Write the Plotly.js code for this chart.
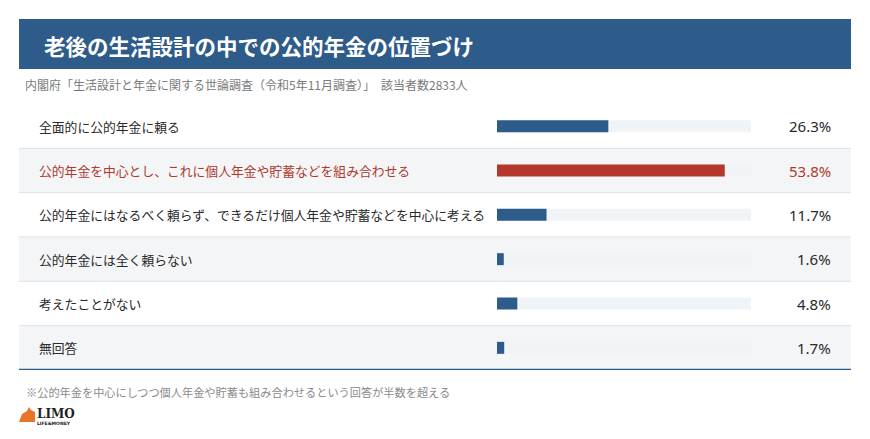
<!DOCTYPE html>
<html>
<head>
<meta charset="utf-8">
<script src="https://cdn.plot.ly/plotly-3.0.1.min.js"></script>
<style>html,body{margin:0;padding:0;background:#fff;}#chart{width:870px;height:439px;}</style>
</head>
<body>
<div id="chart"></div>
<script>
const titleText = "老後の生活設計の中での公的年金の位置づけ";
const subtitleText = "内閣府「生活設計と年金に関する世論調査（令和5年11月調査）」　該当者数2833人";
const footnoteText = "※公的年金を中心にしつつ個人年金や貯蓄も組み合わせるという回答が半数を超える";
const categories = [
  "全面的に公的年金に頼る",
  "公的年金を中心とし、これに個人年金や貯蓄などを組み合わせる",
  "公的年金にはなるべく頼らず、できるだけ個人年金や貯蓄などを中心に考える",
  "公的年金には全く頼らない",
  "考えたことがない",
  "無回答"
];
const values = [26.3, 53.8, 11.7, 1.6, 4.8, 1.7];
const highlightIndex = 1;
const trackMax = 60;

const W = 870, H = 439;
const px = x => x / W;
const py = y => 1 - y / H;

const BLUE = "#2d5b8a";
const RED = "#b4372a";
const RED_TEXT = "#b0392b";
const FONT = "'Noto Sans CJK JP', 'Noto Sans', sans-serif";

const barColors = values.map((v, i) => i === highlightIndex ? RED : BLUE);

const traces = [
  {
    type: "bar", orientation: "h",
    y: categories, x: categories.map(() => trackMax),
    marker: {color: "#f1f4f7"}, width: 0.27,
    hoverinfo: "skip", showlegend: false
  },
  {
    type: "bar", orientation: "h",
    y: categories, x: values,
    marker: {color: barColors}, width: 0.27,
    hoverinfo: "skip", showlegend: false
  }
];

const shapes = [];
shapes.push({type: "rect", xref: "paper", yref: "paper", x0: px(19), x1: px(851), y0: py(69), y1: py(19), fillcolor: BLUE, line: {width: 0}, layer: "below"});
categories.forEach((c, i) => {
  if (i % 2 === 1) {
    shapes.push({type: "rect", xref: "paper", yref: "y", x0: px(19), x1: px(851), y0: i - 0.5, y1: i + 0.5, fillcolor: "#f3f5f7", line: {width: 0}, layer: "below"});
  }
});
for (let i = 0; i < categories.length - 1; i++) {
  shapes.push({type: "line", xref: "paper", yref: "y", x0: px(19), x1: px(851), y0: i + 0.5, y1: i + 0.5, line: {color: "#dde3e9", width: 1}, layer: "below"});
}
shapes.push({type: "line", xref: "paper", yref: "y", x0: px(19), x1: px(851), y0: categories.length - 0.5, y1: categories.length - 0.5, line: {color: BLUE, width: 2.5}});
const logoPts = [[19,422],[22,414],[27,411],[29,407],[31,410],[35,412],[35,422]];
shapes.push({type: "path", xref: "paper", yref: "paper",
  path: "M " + logoPts.map(p => px(p[0]).toFixed(5) + "," + py(p[1]).toFixed(5)).join(" L ") + " Z",
  fillcolor: "#e8742a", line: {width: 0}});

const annotations = [];
annotations.push({xref: "paper", yref: "paper", x: px(42), y: py(45), xanchor: "left", yanchor: "middle", showarrow: false,
  text: "<b>" + titleText + "</b>", font: {family: FONT, size: 21.5, color: "#ffffff"}});
annotations.push({xref: "paper", yref: "paper", x: px(23), y: py(84), xanchor: "left", yanchor: "middle", showarrow: false,
  text: subtitleText, font: {family: FONT, size: 12, color: "#7a7a7a"}});
annotations.push({xref: "paper", yref: "paper", x: px(24), y: py(392), xanchor: "left", yanchor: "middle", showarrow: false,
  text: footnoteText, font: {family: FONT, size: 11.2, color: "#8a8a8a"}});
annotations.push({xref: "paper", yref: "paper", x: px(35), y: py(414), xanchor: "left", yanchor: "middle", showarrow: false,
  text: "<b>LIMO</b>", font: {family: "'DejaVu Serif', serif", size: 12, color: "#222"}});
annotations.push({xref: "paper", yref: "paper", x: px(35), y: py(423), xanchor: "left", yanchor: "middle", showarrow: false,
  text: "<b>LIFE&amp;MONEY</b>", font: {family: "'DejaVu Sans', sans-serif", size: 4.5, color: "#222"}});

categories.forEach((c, i) => {
  const col = i === highlightIndex ? RED_TEXT : "#2a2a2a";
  annotations.push({xref: "paper", yref: "y", x: px(37), y: c, xanchor: "left", yanchor: "middle", showarrow: false,
    text: c, font: {family: FONT, size: 12.8, color: col}});
  annotations.push({xref: "paper", yref: "y", x: px(833), y: c, xanchor: "right", yanchor: "middle", showarrow: false,
    text: values[i].toFixed(1) + "%", font: {family: "'Noto Sans', sans-serif", size: 15, color: col}});
});

const layout = {
  width: W, height: H,
  margin: {l: 0, r: 0, t: 0, b: 0, pad: 0},
  paper_bgcolor: "#ffffff", plot_bgcolor: "rgba(0,0,0,0)",
  barmode: "overlay",
  xaxis: {domain: [px(497), px(751)], range: [0, trackMax], visible: false, fixedrange: true},
  yaxis: {domain: [1 - 370 / H, 1 - 104 / H], type: "category", range: [categories.length - 0.5, -0.5], visible: false, fixedrange: true},
  shapes: shapes,
  annotations: annotations,
  showlegend: false
};

Plotly.newPlot("chart", traces, layout, {displayModeBar: false, staticPlot: true});
</script>
</body>
</html>
